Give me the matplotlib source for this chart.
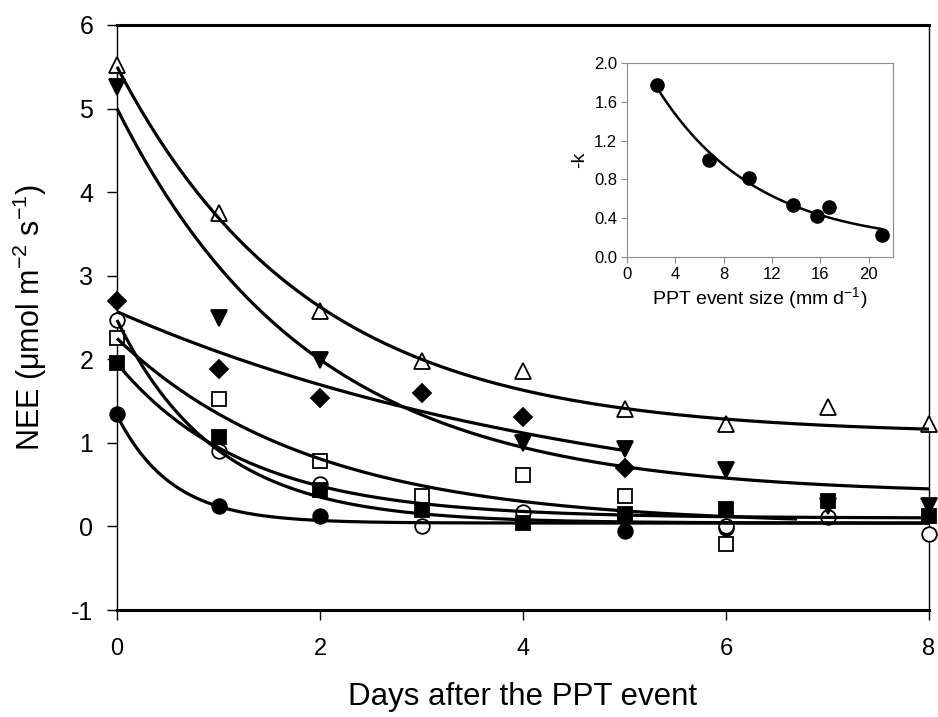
import numpy as np
import matplotlib
matplotlib.use("Agg")
import matplotlib.pyplot as plt

plt.rcParams['font.family'] = ['Liberation Sans', 'DejaVu Sans']
plt.rcParams['mathtext.fontset'] = 'custom'
plt.rcParams['mathtext.rm'] = 'Liberation Sans'
plt.rcParams['axes.unicode_minus'] = False

# ---------------- main panel data ----------------
days_tri_open = [0, 1, 2, 3, 4, 5, 6, 7, 8]
nee_tri_open = [5.52, 3.75, 2.58, 1.98, 1.86, 1.40, 1.23, 1.43, 1.23]

days_tri_down = [0, 1, 2, 4, 5, 6, 7, 8]
nee_tri_down = [5.26, 2.50, 1.99, 1.00, 0.93, 0.67, 0.25, 0.25]

days_diamond = [0, 1, 2, 3, 4, 5]
nee_diamond = [2.70, 1.88, 1.54, 1.60, 1.31, 0.70]

days_circ_open = [0, 1, 2, 3, 4, 6, 7, 8]
nee_circ_open = [2.47, 0.90, 0.51, 0.01, 0.17, 0.01, 0.11, -0.09]

days_sq_open = [0, 1, 2, 3, 4, 5, 6]
nee_sq_open = [2.25, 1.53, 0.78, 0.36, 0.61, 0.37, -0.21]

days_sq_fill = [0, 1, 2, 3, 4, 5, 6, 7, 8]
nee_sq_fill = [1.95, 1.07, 0.43, 0.20, 0.04, 0.15, 0.21, 0.31, 0.13]

days_circ_fill = [0, 1, 2, 5, 6]
nee_circ_fill = [1.35, 0.24, 0.13, -0.05, -0.02]

# fitted exponential decay y = c + a*exp(-k*t): parameters per series
fit_names = ['tri_open', 'tri_down', 'diamond', 'circ_open', 'sq_open', 'sq_fill', 'circ_fill']
fit_a = [4.40, 4.62, 2.57, 2.43, 2.23, 1.85, 1.29]
fit_k = [0.529, 0.525, 0.208, 1.027, 0.52, 0.788, 1.864]
fit_c = [1.10, 0.38, 0.0, 0.04, 0.02, 0.10, 0.04]
fit_end = [8, 8, 5, 8, 6.7, 8, 8]

# ---------------- inset data ----------------
ppt_size = [2.5, 6.8, 10.1, 13.7, 15.7, 16.7, 21.1]
neg_k = [1.77, 1.00, 0.81, 0.54, 0.42, 0.52, 0.23]
inset_fit = dict(a=2.20, b=0.122, c=0.12, start=2.5, end=21.0)

fig = plt.figure(figsize=(9.38, 7.17), dpi=100)
ax = fig.add_axes([117/938, 1-610/717, (929-117)/938, (610-25)/717])

# curves
for a, k, c, end in zip(fit_a, fit_k, fit_c, fit_end):
    t = np.linspace(0, end, 300)
    ax.plot(t, c + a*np.exp(-k*t), color='black', lw=2.3, zorder=4, clip_on=False,
            solid_capstyle='butt')

ms = 10.5
mk = dict(linestyle='none', clip_on=False, markeredgewidth=1.3)
ax.plot(days_circ_fill, nee_circ_fill, marker='o', ms=ms, mfc='black', mec='black', zorder=2, **mk)
ax.plot(days_circ_open, nee_circ_open, marker='o', ms=ms, mfc='white', mec='black', zorder=3, **mk)
ax.plot(days_sq_open, nee_sq_open, marker='s', ms=ms-1, mfc='white', mec='black', zorder=3, **mk)
ax.plot(days_tri_open, nee_tri_open, marker='^', ms=ms+1, mfc='white', mec='black', zorder=3, **mk)
ax.plot(days_sq_fill, nee_sq_fill, marker='s', ms=ms-1, mfc='black', mec='black', zorder=3.5, **mk)
ax.plot(days_diamond, nee_diamond, marker='D', ms=ms-1, mfc='black', mec='black', zorder=3.5, **mk)
ax.plot(days_tri_down, nee_tri_down, marker='v', ms=ms+1, mfc='black', mec='black', zorder=3.5, **mk)

ax.set_xlim(0, 8)
ax.set_ylim(-1, 6)
ax.set_xticks([0, 2, 4, 6, 8])
ax.set_yticks(range(-1, 7))
for side in ['left', 'right']:
    ax.spines[side].set_linewidth(1.0)
for side in ['top', 'bottom']:
    ax.spines[side].set_linewidth(2.2)
ax.tick_params(axis='y', direction='out', length=7, width=1, labelsize=18, pad=10)
ax.tick_params(axis='x', direction='out', length=7, width=1, labelsize=17, pad=13)
ax.set_xlabel('Days after the PPT event', fontsize=22.5, labelpad=16)
ax.set_ylabel(r'NEE ($\mathregular{\mu}$mol m$^{\mathregular{-2}}$ s$^{\mathregular{-1}}$)',
              fontsize=22, labelpad=16)

# ---------------- inset ----------------
ins = fig.add_axes([627/938, 1-257/717, (893-627)/938, (257-63)/717])
xs = np.linspace(inset_fit['start'], inset_fit['end'], 200)
ins.plot(xs, inset_fit['c'] + inset_fit['a']*np.exp(-inset_fit['b']*xs), color='black', lw=1.8, zorder=3)
ins.plot(ppt_size, neg_k, 'o', ms=9.5, mfc='black', mec='black', zorder=4, clip_on=False)
ins.set_xlim(0, 22)
ins.set_ylim(0, 2.0)
ins.set_xticks([0, 4, 8, 12, 16, 20])
ins.set_yticks([0.0, 0.4, 0.8, 1.2, 1.6, 2.0])
ins.set_yticklabels(['0.0', '0.4', '0.8', '1.2', '1.6', '2.0'])
for s in ins.spines.values():
    s.set_color('#8c8c8c')
    s.set_linewidth(0.8)
ins.tick_params(direction='out', length=4, width=0.8, color='#8c8c8c', labelsize=12, pad=3)
ins.set_xlabel(r'PPT event size (mm d$^{\mathregular{-1}}$)', fontsize=14, labelpad=3)
ins.set_ylabel('-k', fontsize=14, labelpad=4)

fig.savefig('out.png', dpi=100)
